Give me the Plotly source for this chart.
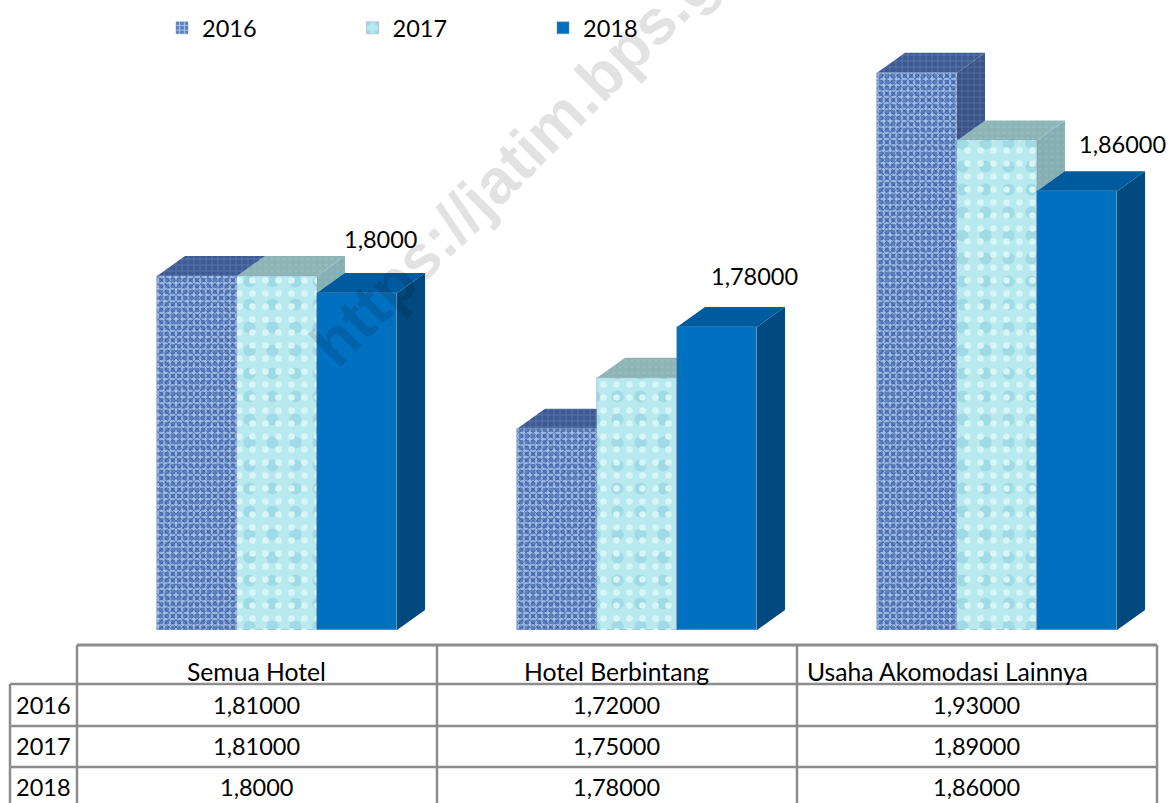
import plotly.graph_objects as go

# ---------- data ----------
categories = ["Semua Hotel", "Hotel Berbintang", "Usaha Akomodasi Lainnya"]
series_names = ["2016", "2017", "2018"]
values_2016 = [1.81, 1.72, 1.93]
values_2017 = [1.81, 1.75, 1.89]
values_2018 = [1.80, 1.78, 1.86]
text_2016 = ["1,81000", "1,72000", "1,93000"]
text_2017 = ["1,81000", "1,75000", "1,89000"]
text_2018 = ["1,8000", "1,78000", "1,86000"]

# ---------- geometry of the page (pixels) ----------
W, H = 1174, 803
PLOT_L, PLOT_R, PLOT_T, PLOT_B = 77, 1157, 40, 630
GROUP_PX, BAR_PX, DEPTH_X, DEPTH_Y = 360, 80, 28, 20
FIRST_CENTER = 277
Y_MIN, PX_PER_UNIT = 1.6012, 1695.0

x_range = [(PLOT_L - FIRST_CENTER) / GROUP_PX, (PLOT_R - FIRST_CENTER) / GROUP_PX]
y_range = [Y_MIN, Y_MIN + (PLOT_B - PLOT_T) / PX_PER_UNIT]
bw = BAR_PX / GROUP_PX
dx = DEPTH_X / GROUP_PX
dy = DEPTH_Y / PX_PER_UNIT

styles = [
    dict(front_bg="#5c7fbd", front_fg="#a9c6f0", fg2="#2a4a88", shape="+", size=6, sol=0.42,
         side="#3a5488", side_fg="#6f8cbc", top="#3d5a94", top_fg="#7c98c8", pshape="+"),
    dict(front_bg="#b8e9ef", front_fg="#a0dae4", fg2="#d8f5f8", shape=".", size=23, sol=0.22,
         side="#84aeb2", side_fg="#96bec1", top="#8db5b6", top_fg="#9fc4c4", pshape="."),
    dict(front_bg="#0070c0", front_fg="#0070c0", fg2=None, shape="", size=8, sol=0.3,
         side="#004a7f", side_fg="#004a7f", top="#005a9e", top_fg="#005a9e", pshape=""),
]
all_values = [values_2016, values_2017, values_2018]
offsets = [-bw, 0, bw]

fig = go.Figure()

# side and top faces, on the lower axes pair
for vals, off, st in zip(all_values, offsets, styles):
    sx, sy, tx, ty = [], [], [], []
    for i, v in enumerate(vals):
        xr = i + off + bw / 2
        xl = i + off - bw / 2
        sx += [xr, xr + dx, xr + dx, xr, xr, None]
        sy += [Y_MIN, Y_MIN + dy, v + dy, v, Y_MIN, None]
        tx += [xl, xl + dx, xr + dx, xr, xl, None]
        ty += [v, v + dy, v + dy, v, v, None]
    for px_, py_, col, fg in ((sx, sy, st["side"], st["side_fg"]), (tx, ty, st["top"], st["top_fg"])):
        fig.add_trace(go.Scatter(
            x=px_, y=py_, mode="lines", line=dict(width=0), fill="toself", fillcolor=col,
            fillpattern=dict(shape=st["pshape"], bgcolor=col, fgcolor=fg, size=6, solidity=0.25),
            showlegend=False, hoverinfo="skip", xaxis="x", yaxis="y"))

# front faces, on the overlaying axes pair
for name, vals, off, st in zip(series_names, all_values, offsets, styles):
    fig.add_trace(go.Bar(
        name=name, x=[0, 1, 2], y=[v - Y_MIN for v in vals], base=Y_MIN, width=bw, offset=off - bw / 2,
        marker=dict(color=st["front_bg"], line=dict(width=0.6, color="rgba(120,140,170,0.7)"),
                    pattern=dict(shape=st["shape"], bgcolor=st["front_bg"], fgcolor=st["front_fg"],
                                 size=st["size"], solidity=st["sol"], fillmode="replace")),
        xaxis="x2", yaxis="y2", hoverinfo="skip"))
    if st["fg2"]:
        fig.add_trace(go.Bar(
            x=[0, 1, 2], y=[v - Y_MIN for v in vals], base=Y_MIN, width=bw, offset=off - bw / 2,
            marker=dict(color="rgba(0,0,0,0)", line=dict(width=0),
                        pattern=dict(shape="x" if st["shape"] == "+" else ".", fgcolor=st["fg2"],
                                     bgcolor="rgba(0,0,0,0)",
                                     size=5 if st["shape"] == "+" else 13,
                                     solidity=0.2, fillmode="replace")),
            showlegend=False, xaxis="x2", yaxis="y2", hoverinfo="skip"))

annotations = []
FONT = "Lato, Carlito, Calibri, sans-serif"
TXT = 23.5
TXT_CAT = 24.7

# data labels of the last series
label_dx = [23, 37, 45]
label_dy = [54, 51, 47]
for i, (v, t) in enumerate(zip(values_2018, text_2018)):
    annotations.append(dict(x=i + bw, y=v, xref="x2", yref="y2", text=t, showarrow=False,
                            xshift=label_dx[i], yshift=label_dy[i], xanchor="center", yanchor="middle",
                            font=dict(family=FONT, size=TXT, color="#000000")))

# data table
col_edges = [77, 437, 797, 1157]
row_edges = [645, 684, 726, 767, 803]
category_centers = [256, 616, 947]
LEFT = 10
LINE = "#8c8c8c"
def px(x): return x / W
def py(y): return 1 - y / H

shapes = []
def seg(x0, y0, x1, y1, w=2.5):
    shapes.append(dict(type="line", xref="paper", yref="paper", x0=px(x0), y0=py(y0), x1=px(x1), y1=py(y1),
                       line=dict(color=LINE, width=w), layer="above"))
seg(col_edges[0], row_edges[0], col_edges[-1], row_edges[0], 3)
for y in row_edges[1:4]:
    seg(LEFT, y, col_edges[-1], y)
for x in col_edges:
    seg(x, row_edges[0], x, H)
seg(LEFT, row_edges[1], LEFT, H)

def cell(xc, yc, t, size=TXT):
    annotations.append(dict(x=px(xc), y=py(yc), xref="paper", yref="paper", text=t, showarrow=False,
                            xanchor="center", yanchor="middle",
                            font=dict(family=FONT, size=size, color="#000000")))
centers = [(col_edges[i] + col_edges[i + 1]) / 2 for i in range(3)]
for xc, c in zip(category_centers, categories):
    cell(xc, 671, c, TXT_CAT)
for yc, name, texts in zip([705, 746, 787], series_names, [text_2016, text_2017, text_2018]):
    cell((LEFT + col_edges[0]) / 2, yc, name)
    for xc, t in zip(centers, texts):
        cell(xc - 1, yc, t)

# watermark
annotations.append(dict(x=px(553), y=py(123), xref="paper", yref="paper", text="<b>https://jatim.bps.go.id</b>",
                        textangle=-45, showarrow=False, xanchor="center", yanchor="middle",
                        font=dict(family="Liberation Sans, Arial, sans-serif", size=63, color="rgba(0,0,0,0.115)")))

dom_x = [PLOT_L / W, PLOT_R / W]
dom_y = [1 - PLOT_B / H, 1 - PLOT_T / H]
axis_common = dict(visible=False, fixedrange=True)
fig.update_layout(
    width=W, height=H, autosize=False, margin=dict(l=0, r=0, t=0, b=0),
    paper_bgcolor="#ffffff", plot_bgcolor="rgba(0,0,0,0)",
    barmode="overlay", bargap=0,
    xaxis=dict(domain=dom_x, range=x_range, **axis_common),
    yaxis=dict(domain=dom_y, range=y_range, **axis_common),
    xaxis2=dict(domain=dom_x, range=x_range, overlaying="x", anchor="y2", **axis_common),
    yaxis2=dict(domain=dom_y, range=y_range, overlaying="y", anchor="x2", **axis_common),
    legend=dict(orientation="h", x=162 / W, y=1 - 6 / H, xanchor="left", yanchor="top",
                entrywidth=145.5, entrywidthmode="pixels", itemclick=False, itemdoubleclick=False,
                bgcolor="rgba(0,0,0,0)", font=dict(family=FONT, size=TXT, color="#000000")),
    annotations=annotations, shapes=shapes, showlegend=True,
)
fig.write_html("out.html", post_script="document.body.style.margin='0';document.documentElement.style.overflow='hidden';",
               config=dict(displayModeBar=False))
